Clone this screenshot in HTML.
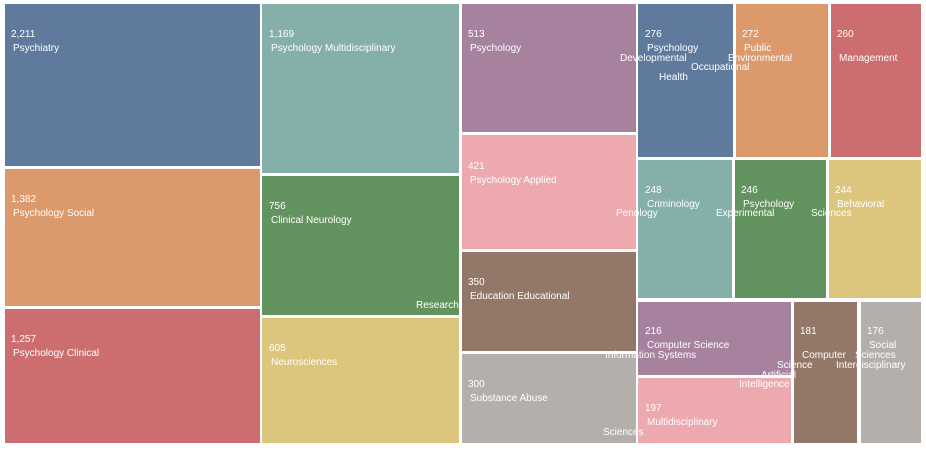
<!DOCTYPE html>
<html><head><style>
body{margin:0;width:926px;height:451px;background:#fff;position:relative;overflow:hidden;font-family:"Liberation Sans",sans-serif;color:#fff;font-size:10px}
.r{position:absolute}
.t{position:absolute;white-space:nowrap;line-height:12px;margin-top:3px}
</style></head><body>
<div class="r" style="left:5px;top:4px;width:255px;height:162px;background:#5f7a9c"></div>
<div class="r" style="left:5px;top:169px;width:255px;height:137px;background:#dc9a6c"></div>
<div class="r" style="left:5px;top:309px;width:255px;height:134px;background:#cc6e6f"></div>
<div class="r" style="left:262px;top:4px;width:197px;height:169px;background:#85b0aa"></div>
<div class="r" style="left:262px;top:176px;width:197px;height:139px;background:#63935e"></div>
<div class="r" style="left:262px;top:318px;width:197px;height:125px;background:#dcc67d"></div>
<div class="r" style="left:462px;top:4px;width:174px;height:128px;background:#a7829e"></div>
<div class="r" style="left:462px;top:135px;width:174px;height:114px;background:#eda9ae"></div>
<div class="r" style="left:462px;top:252px;width:174px;height:99px;background:#937769"></div>
<div class="r" style="left:462px;top:354px;width:174px;height:89px;background:#b5afac"></div>
<div class="r" style="left:638px;top:4px;width:95px;height:153px;background:#5f7a9c"></div>
<div class="r" style="left:736px;top:4px;width:92px;height:153px;background:#dc9a6c"></div>
<div class="r" style="left:831px;top:4px;width:90px;height:153px;background:#cc6e6f"></div>
<div class="r" style="left:638px;top:160px;width:94px;height:138px;background:#85b0aa"></div>
<div class="r" style="left:735px;top:160px;width:91px;height:138px;background:#63935e"></div>
<div class="r" style="left:829px;top:160px;width:92px;height:138px;background:#dcc67d"></div>
<div class="r" style="left:638px;top:302px;width:153px;height:73px;background:#a7829e"></div>
<div class="r" style="left:638px;top:378px;width:153px;height:65px;background:#eda9ae"></div>
<div class="r" style="left:794px;top:302px;width:63px;height:141px;background:#937769"></div>
<div class="r" style="left:861px;top:302px;width:60px;height:141px;background:#b5afac"></div>

<div class="t" style="left:11px;top:26px">2,211</div><div class="t" style="left:13px;top:40px">Psychiatry</div>
<div class="t" style="left:11px;top:191px">1,382</div><div class="t" style="left:13px;top:205px">Psychology Social</div>
<div class="t" style="left:11px;top:331px">1,257</div><div class="t" style="left:13px;top:345px">Psychology Clinical</div>
<div class="t" style="left:269px;top:26px">1,169</div><div class="t" style="left:271px;top:40px">Psychology Multidisciplinary</div>
<div class="t" style="left:269px;top:198px">756</div><div class="t" style="left:271px;top:212px">Clinical Neurology</div>
<div class="t" style="left:416px;top:297px">Research</div>
<div class="t" style="left:269px;top:340px">605</div><div class="t" style="left:271px;top:354px">Neurosciences</div>
<div class="t" style="left:468px;top:26px">513</div><div class="t" style="left:470px;top:40px">Psychology</div>
<div class="t" style="left:468px;top:158px">421</div><div class="t" style="left:470px;top:172px">Psychology Applied</div>
<div class="t" style="left:468px;top:274px">350</div><div class="t" style="left:470px;top:288px">Education Educational</div>
<div class="t" style="left:468px;top:376px">300</div><div class="t" style="left:470px;top:390px">Substance Abuse</div>
<div class="t" style="left:603px;top:424px">Sciences</div>
<div class="t" style="left:645px;top:26px">276</div><div class="t" style="left:647px;top:40px">Psychology</div>
<div class="t" style="left:620px;top:50px">Developmental</div>
<div class="t" style="left:691px;top:59px">Occupational</div>
<div class="t" style="left:659px;top:69px">Health</div>
<div class="t" style="left:742px;top:26px">272</div><div class="t" style="left:744px;top:40px">Public</div>
<div class="t" style="left:728px;top:50px">Environmental</div>
<div class="t" style="left:837px;top:26px">260</div><div class="t" style="left:839px;top:50px">Management</div>
<div class="t" style="left:645px;top:182px">248</div><div class="t" style="left:647px;top:196px">Criminology</div>
<div class="t" style="left:616px;top:205px">Penology</div>
<div class="t" style="left:741px;top:182px">246</div><div class="t" style="left:743px;top:196px">Psychology</div>
<div class="t" style="left:716px;top:205px">Experimental</div>
<div class="t" style="left:835px;top:182px">244</div><div class="t" style="left:837px;top:196px">Behavioral</div>
<div class="t" style="left:811px;top:205px">Sciences</div>
<div class="t" style="left:645px;top:323px">216</div><div class="t" style="left:647px;top:337px">Computer Science</div>
<div class="t" style="left:605px;top:347px">Information Systems</div>
<div class="t" style="left:777px;top:357px">Science</div>
<div class="t" style="left:761px;top:367px">Artificial</div>
<div class="t" style="left:739px;top:376px">Intelligence</div>
<div class="t" style="left:645px;top:400px">197</div><div class="t" style="left:647px;top:414px">Multidisciplinary</div>
<div class="t" style="left:800px;top:323px">181</div><div class="t" style="left:802px;top:347px">Computer</div>
<div class="t" style="left:867px;top:323px">176</div><div class="t" style="left:869px;top:337px">Social</div>
<div class="t" style="left:855px;top:347px">Sciences</div>
<div class="t" style="left:836px;top:357px">Interdisciplinary</div>
</body></html>
